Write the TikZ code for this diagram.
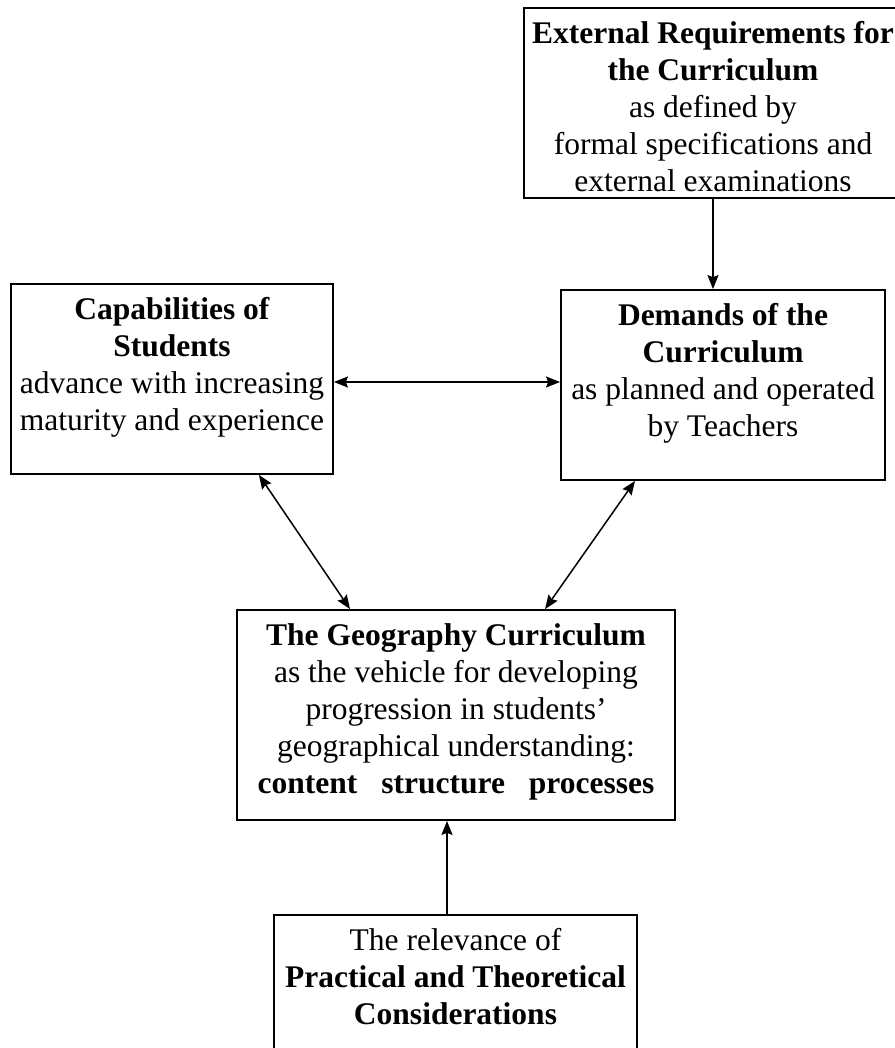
\documentclass[tikz,border=0pt]{standalone}
\usepackage{fontspec}
\setmainfont{Liberation Serif}
\usetikzlibrary{arrows.meta,positioning}
\tikzset{
    box/.style={
           rectangle,
           draw=black, line width=1.8pt,
           inner sep=0pt,
           },
    boxtext/.style={
           align=center,
           inner sep=0pt,
           font=\fontsize{31.5}{37}\selectfont,
           },
    pil/.style={
           line width=1.5pt,
           {Stealth[length=14pt,width=11pt,inset=2pt]}-{Stealth[length=14pt,width=11pt,inset=2pt]},},
    onepil/.style={
           line width=1.5pt,
           -{Stealth[length=14pt,width=11pt,inset=2pt]},}
}

\begin{document}
\begin{tikzpicture}[x=1pt,y=-1pt]
\useasboundingbox (0,0) rectangle (894,1048);
% Position of External Requirements (EXTERNAL)
\node[box, minimum width=378pt, minimum height=190pt] (EXTERNAL) at (713,103) {};
\node[boxtext, anchor=north] (EXTERNALT) at ([yshift=-14pt]EXTERNAL.north)
{\textbf{External Requirements for}\\
\textbf{the Curriculum}\\
as defined by\\
formal specifications and\\
external examinations};
% Position of Capabilities of Students (CAPS)
\node[box, minimum width=322pt, minimum height=190pt] (CAPS) at (172,379) {};
\node[boxtext, anchor=north] (CAPST) at ([yshift=-14pt]CAPS.north)
{\textbf{Capabilities of}\\
\textbf{Students}\\
advance with increasing\\
maturity and experience};
% Position of Demands of the Curriculum (DEMANDS)
\node[box, minimum width=324pt, minimum height=190pt] (DEMANDS) at (723,385) {};
\node[boxtext, anchor=north] (DEMANDST) at ([yshift=-14pt]DEMANDS.north)
{\textbf{Demands of the}\\
\textbf{Curriculum}\\
as planned and operated\\
by Teachers};
% Position of The Geography Curriculum (GEOGRAPHY)
\node[box, minimum width=438pt, minimum height=210pt] (GEOGRAPHY) at (456,715) {};
\node[boxtext, anchor=north] (GEOGRAPHYT) at ([yshift=-14pt]GEOGRAPHY.north)
{\textbf{The Geography Curriculum}\\
as the vehicle for developing\\
progression in students'\\
geographical understanding:\\
\textbf{content\hspace{24pt}structure\hspace{24pt}processes}};
% Position of Practical and Theoretical Considerations (RELEVANCE)
\node[box, minimum width=363pt, minimum height=145pt] (RELEVANCE) at (455.5,987.5) {};
\node[boxtext, anchor=north] (RELEVANCET) at ([yshift=-14pt]RELEVANCE.north)
{The relevance of\\
\textbf{Practical and Theoretical}\\
\textbf{Considerations}};
% Draw lines on graph
\draw[onepil] (EXTERNAL.south) -- (EXTERNAL.south |- DEMANDS.north);
\draw[pil] ([yshift=-3pt]CAPS.east) -- ([yshift=-3pt]CAPS.east -| DEMANDS.west);
\draw[pil] ([xshift=-75pt]CAPS.south east) -- ([xshift=-106pt]GEOGRAPHY.north);
\draw[pil] ([xshift=-88pt]DEMANDS.south) -- ([xshift=89pt]GEOGRAPHY.north);
\draw[onepil] ([xshift=-8.5pt]RELEVANCE.north) -- ([xshift=-8.5pt]RELEVANCE.north |- GEOGRAPHY.south);
\end{tikzpicture}
\end{document}
